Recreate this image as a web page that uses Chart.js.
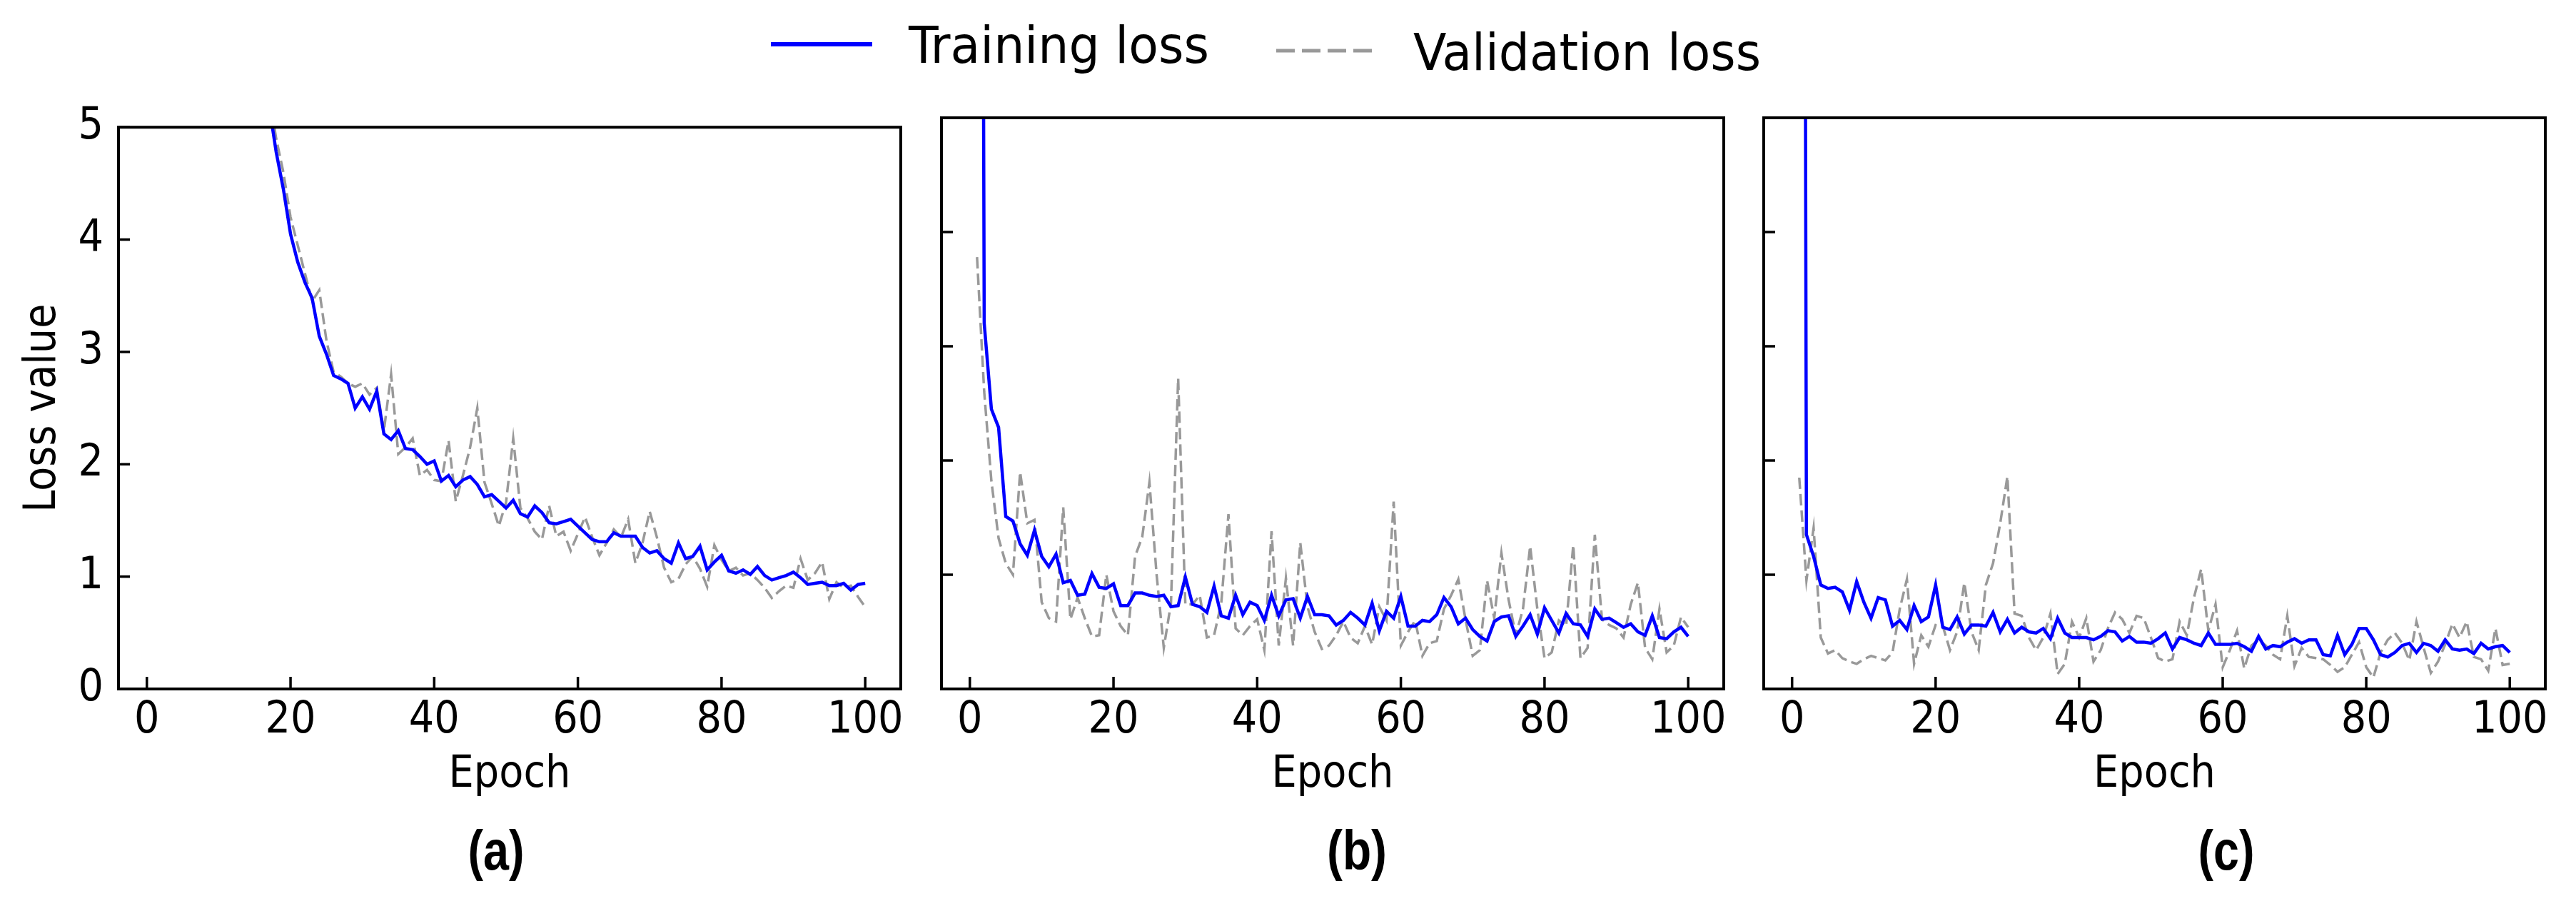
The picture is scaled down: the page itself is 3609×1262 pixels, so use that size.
<!DOCTYPE html>
<html>
<head>
<meta charset="utf-8">
<script src="https://cdn.jsdelivr.net/npm/chart.js@4.4.1/dist/chart.umd.min.js"></script>
<style>
    html, body { margin: 0; padding: 0; background: #ffffff; }
    #page { position: relative; width: 3609px; height: 1262px; overflow: hidden; background: #ffffff; }
    #page canvas { position: absolute; top: 120px; }
    #overlay { position: absolute; left: 0; top: 0; }
</style>
</head>
<body>
<div id="page">
    <svg id="overlay" width="3609" height="1262" xmlns="http://www.w3.org/2000/svg">
        <!-- shared legend -->
        <line x1="1080" y1="62" x2="1222" y2="62" stroke="#0000ff" stroke-width="6"/>
        <text x="1273" y="88" font-family="DejaVu Sans Condensed, DejaVu Sans, sans-serif" font-size="71" fill="#000" textLength="421" lengthAdjust="spacingAndGlyphs">Training loss</text>
        <line x1="1788" y1="71" x2="1923" y2="71" stroke="#999999" stroke-width="5" stroke-dasharray="26 10"/>
        <text x="1980" y="98" font-family="DejaVu Sans Condensed, DejaVu Sans, sans-serif" font-size="71" fill="#000" textLength="487" lengthAdjust="spacingAndGlyphs">Validation loss</text>
        <!-- panel captions -->
        <text x="695" y="1218" text-anchor="middle" font-family="Liberation Sans Narrow, Liberation Sans, Arial, sans-serif" font-weight="bold" font-size="77" fill="#000" textLength="79" lengthAdjust="spacingAndGlyphs">(a)</text>
        <text x="1901" y="1218" text-anchor="middle" font-family="Liberation Sans Narrow, Liberation Sans, Arial, sans-serif" font-weight="bold" font-size="77" fill="#000" textLength="84" lengthAdjust="spacingAndGlyphs">(b)</text>
        <text x="3119" y="1218" text-anchor="middle" font-family="Liberation Sans Narrow, Liberation Sans, Arial, sans-serif" font-weight="bold" font-size="77" fill="#000" textLength="79" lengthAdjust="spacingAndGlyphs">(c)</text>
    </svg>
    <canvas id="chartA" width="1290" height="1040" style="left:0px"></canvas>
    <canvas id="chartB" width="1150" height="1040" style="left:1290px"></canvas>
    <canvas id="chartC" width="1169" height="1040" style="left:2440px"></canvas>
</div>
<script>
// epochs 1..100 on the x axis
var epochs = Array.from({ length: 100 }, function (_, i) { return i + 1 })
var xTickValues = [0, 20, 40, 60, 80, 100]
var yTickValues = [0, 1, 2, 3, 4, 5]

// (a) - first epochs sit above the plot top (clipped)
var trainA = [30, 24, 19.5, 16.2, 13.6, 11.6, 10.0, 8.8, 7.9, 7.2,
    6.7, 6.3, 6.0, 5.75, 5.55, 5.4, 5.2, 4.78, 4.45, 4.05,
    3.80, 3.62, 3.48, 3.14, 2.98, 2.79, 2.76, 2.72, 2.50, 2.60,
    2.49, 2.65, 2.27, 2.22, 2.30, 2.14, 2.13, 2.07, 2.00, 2.03,
    1.85, 1.90, 1.80, 1.86, 1.89, 1.82, 1.71, 1.73, 1.67, 1.61,
    1.68, 1.56, 1.53, 1.63, 1.57, 1.48, 1.47, 1.49, 1.51, 1.45,
    1.39, 1.33, 1.31, 1.31, 1.39, 1.36, 1.36, 1.36, 1.26, 1.21,
    1.23, 1.16, 1.12, 1.30, 1.16, 1.18, 1.27, 1.06, 1.13, 1.19,
    1.05, 1.03, 1.06, 1.02, 1.09, 1.01, 0.97, 0.99, 1.01, 1.04,
    0.99, 0.93, 0.94, 0.95, 0.92, 0.92, 0.94, 0.88, 0.93, 0.94]
var valA = [28, 22.5, 18.5, 15.5, 13.1, 11.3, 9.8, 8.7, 7.8, 7.1,
    6.6, 6.25, 5.95, 5.75, 5.6, 5.45, 5.3, 4.9, 4.6, 4.2,
    3.95, 3.7, 3.45, 3.55, 3.1, 2.82, 2.78, 2.72, 2.69, 2.72,
    2.62, 2.68, 2.30, 2.80, 2.09, 2.15, 2.23, 1.90, 1.95, 1.86,
    1.85, 2.21, 1.67, 1.90, 2.15, 2.50, 1.84, 1.65, 1.45, 1.66,
    2.23, 1.61, 1.52, 1.40, 1.33, 1.63, 1.36, 1.40, 1.23, 1.38,
    1.53, 1.35, 1.19, 1.30, 1.42, 1.35, 1.51, 1.12, 1.30, 1.58,
    1.35, 1.08, 0.95, 0.98, 1.11, 1.18, 1.07, 0.91, 1.28, 1.15,
    1.05, 1.08, 1.01, 1.03, 0.97, 0.90, 0.81, 0.87, 0.92, 0.90,
    1.16, 0.97, 1.03, 1.13, 0.80, 0.95, 0.90, 0.92, 0.82, 0.73]

// (b)
var trainB = [25, 3.2, 2.45, 2.29, 1.51, 1.47, 1.27, 1.17, 1.39, 1.16,
    1.07, 1.18, 0.93, 0.95, 0.82, 0.83, 1.01, 0.89, 0.88, 0.92,
    0.73, 0.73, 0.84, 0.84, 0.82, 0.81, 0.82, 0.72, 0.73, 0.98,
    0.74, 0.72, 0.67, 0.90, 0.64, 0.62, 0.82, 0.65, 0.76, 0.73,
    0.60, 0.82, 0.64, 0.78, 0.79, 0.62, 0.81, 0.65, 0.65, 0.64,
    0.56, 0.60, 0.67, 0.62, 0.56, 0.75, 0.51, 0.68, 0.62, 0.81,
    0.55, 0.55, 0.60, 0.59, 0.65, 0.80, 0.72, 0.57, 0.62, 0.52,
    0.46, 0.42, 0.59, 0.63, 0.64, 0.46, 0.55, 0.65, 0.48, 0.71,
    0.60, 0.49, 0.66, 0.57, 0.56, 0.46, 0.70, 0.61, 0.62, 0.58,
    0.54, 0.57, 0.50, 0.47, 0.64, 0.45, 0.44, 0.50, 0.54, 0.46]
var valB = [3.78, 2.6, 1.82, 1.32, 1.10, 1.00, 1.90, 1.45, 1.48, 0.76,
    0.62, 0.59, 1.59, 0.61, 0.80, 0.62, 0.46, 0.47, 1.00, 0.68,
    0.55, 0.47, 1.16, 1.33, 1.81, 1.00, 0.36, 0.75, 2.72, 0.74,
    0.74, 0.82, 0.45, 0.47, 0.75, 1.53, 0.53, 0.47, 0.55, 0.61,
    0.34, 1.38, 0.38, 0.97, 0.38, 1.28, 0.72, 0.50, 0.35, 0.38,
    0.47, 0.59, 0.45, 0.40, 0.55, 0.39, 0.72, 0.60, 1.64, 0.38,
    0.50, 0.60, 0.29, 0.40, 0.42, 0.70, 0.82, 0.96, 0.61, 0.29,
    0.34, 0.95, 0.62, 1.19, 0.78, 0.47, 0.70, 1.25, 0.70, 0.27,
    0.32, 0.60, 0.55, 1.26, 0.27, 0.36, 1.35, 0.61, 0.56, 0.53,
    0.45, 0.74, 0.93, 0.36, 0.26, 0.70, 0.32, 0.38, 0.63, 0.54]

// (c)
var trainC = [30, 1.35, 1.16, 0.91, 0.88, 0.89, 0.85, 0.69, 0.94, 0.76,
    0.62, 0.80, 0.78, 0.55, 0.60, 0.52, 0.73, 0.59, 0.63, 0.91,
    0.54, 0.52, 0.63, 0.48, 0.56, 0.56, 0.55, 0.67, 0.50, 0.61,
    0.49, 0.54, 0.50, 0.49, 0.53, 0.44, 0.62, 0.49, 0.45, 0.45,
    0.45, 0.43, 0.46, 0.51, 0.50, 0.42, 0.46, 0.41, 0.41, 0.40,
    0.44, 0.49, 0.35, 0.45, 0.43, 0.40, 0.38, 0.49, 0.39, 0.39,
    0.39, 0.40, 0.37, 0.33, 0.46, 0.35, 0.38, 0.37, 0.41, 0.44,
    0.40, 0.43, 0.43, 0.30, 0.29, 0.47, 0.30, 0.39, 0.53, 0.53,
    0.43, 0.30, 0.28, 0.32, 0.38, 0.40, 0.32, 0.40, 0.38, 0.33,
    0.43, 0.35, 0.34, 0.35, 0.31, 0.40, 0.35, 0.37, 0.38, 0.32]
var valC = [1.85, 0.95, 1.41, 0.45, 0.31, 0.34, 0.27, 0.24, 0.22, 0.26,
    0.29, 0.27, 0.25, 0.32, 0.70, 0.96, 0.22, 0.47, 0.37, 0.56,
    0.55, 0.34, 0.50, 0.93, 0.50, 0.34, 0.91, 1.10, 1.45, 1.86,
    0.66, 0.64, 0.45, 0.34, 0.45, 0.66, 0.13, 0.22, 0.59, 0.45,
    0.62, 0.24, 0.34, 0.53, 0.67, 0.61, 0.49, 0.64, 0.62, 0.45,
    0.27, 0.24, 0.26, 0.59, 0.47, 0.80, 1.05, 0.51, 0.74, 0.19,
    0.34, 0.51, 0.18, 0.38, 0.43, 0.38, 0.30, 0.26, 0.64, 0.20,
    0.36, 0.28, 0.27, 0.26, 0.21, 0.15, 0.19, 0.30, 0.41, 0.19,
    0.10, 0.32, 0.43, 0.49, 0.40, 0.25, 0.59, 0.36, 0.14, 0.24,
    0.39, 0.57, 0.45, 0.59, 0.28, 0.26, 0.16, 0.53, 0.21, 0.22]

var trainColor = '#0000ff'
var valColor = '#999999'
var textFont = { family: '"DejaVu Sans Condensed", "DejaVu Sans", sans-serif', size: 62 }

function toPoints(values) {
    return values.map(function (v, i) { return { x: epochs[i], y: v } })
}

// matplotlib look: full box frame + ticks pointing inward
var frameTicks = {
    id: 'frameTicks',
    afterDraw: function (chart) {
        var ctx = chart.ctx
        var area = chart.chartArea
        var xs = chart.scales.x
        var ys = chart.scales.y
        ctx.save()
        ctx.strokeStyle = '#000000'
        ctx.lineWidth = 3.5
        xs.ticks.forEach(function (t) {
            var px = xs.getPixelForValue(t.value)
            ctx.beginPath()
            ctx.moveTo(px, area.bottom)
            ctx.lineTo(px, area.bottom - 17)
            ctx.stroke()
        })
        ys.ticks.forEach(function (t) {
            var py = ys.getPixelForValue(t.value)
            ctx.beginPath()
            ctx.moveTo(area.left, py)
            ctx.lineTo(area.left + 16, py)
            ctx.stroke()
        })
        ctx.lineWidth = 4
        ctx.strokeRect(area.left, area.top, area.right - area.left, area.bottom - area.top)
        ctx.restore()
    }
}

function newLossChart(id, train, val, yWidth, padRight, showY) {
    var canvas = document.getElementById(id).getContext('2d')
    return new Chart(canvas, {
        type: 'line',
        data: {
            datasets: [
                {
                    label: 'Training loss',
                    data: toPoints(train),
                    borderColor: trainColor,
                    borderWidth: 4.5,
                    pointRadius: 0,
                    tension: 0
                },
                {
                    label: 'Validation loss',
                    data: toPoints(val),
                    borderColor: valColor,
                    borderWidth: 3.5,
                    borderDash: [16, 7],
                    pointRadius: 0,
                    tension: 0
                }
            ]
        },
        options: {
            responsive: false,
            animation: false,
            devicePixelRatio: 1,
            layout: { padding: { top: 45, right: padRight, bottom: 0, left: 0 } },
            plugins: { legend: { display: false }, tooltip: { enabled: false } },
            scales: {
                x: {
                    type: 'linear',
                    min: -3.95,
                    max: 104.95,
                    afterBuildTicks: function (s) { s.ticks = xTickValues.map(function (v) { return { value: v } }) },
                    afterFit: function (s) { s.height = 195 },
                    grid: { display: false, drawTicks: false },
                    border: { display: false },
                    ticks: { font: textFont, color: '#000000', padding: 8, maxRotation: 0, autoSkip: false },
                    title: { display: true, text: 'Epoch', font: textFont, color: '#000000', padding: { top: 0, bottom: 37 } }
                },
                y: {
                    type: 'linear',
                    min: 0,
                    max: 5,
                    afterBuildTicks: function (s) { s.ticks = yTickValues.map(function (v) { return { value: v } }) },
                    afterFit: function (s) { s.width = yWidth },
                    grid: { display: false, drawTicks: false },
                    border: { display: false },
                    ticks: { display: showY, font: textFont, color: '#000000', padding: 21 },
                    title: { display: showY, text: 'Loss value', font: textFont, color: '#000000', padding: { top: 24, bottom: 0 } }
                }
            }
        },
        plugins: [frameTicks]
    })
}

newLossChart('chartA', trainA, valA, 166, 28, true)
newLossChart('chartB', trainB, valB, 29, 25, false)
newLossChart('chartC', trainC, valC, 31, 43, false)
</script>
</body>
</html>
